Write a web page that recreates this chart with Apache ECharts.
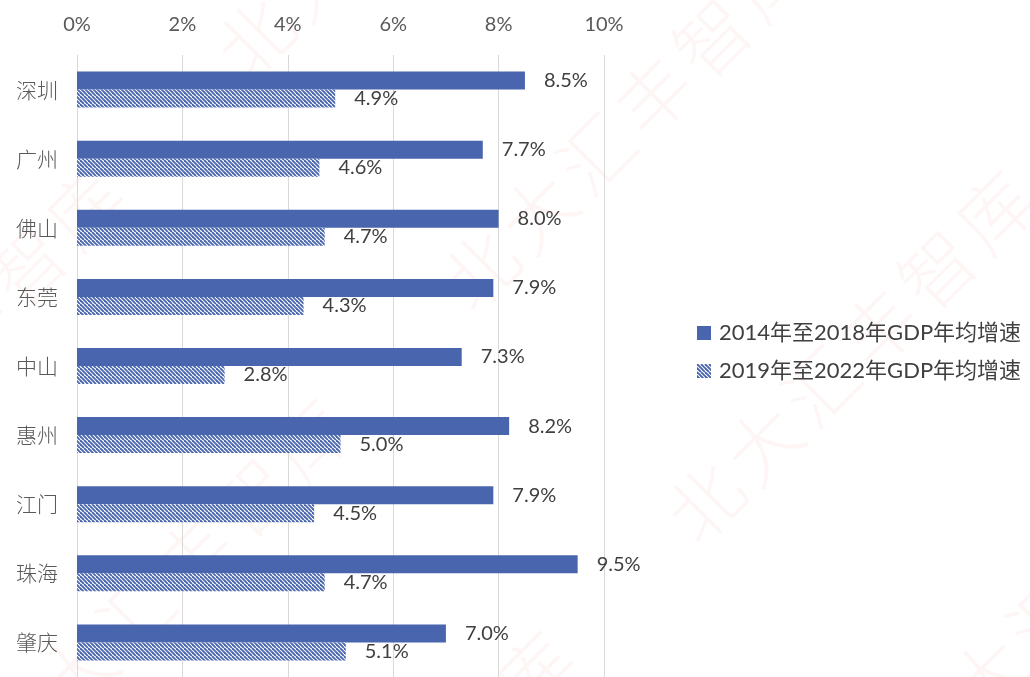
<!DOCTYPE html>
<html>
<head>
<meta charset="utf-8">
<script src="https://cdn.jsdelivr.net/npm/echarts@6/dist/echarts.min.js"></script>
<style>
  html, body { margin: 0; padding: 0; background: #fff; }
  #main { width: 1030px; height: 677px; }
</style>
</head>
<body>
<div id="main"></div>
<script>
// 城市与两段时期GDP年均增速(%)
var cities = ['深圳', '广州', '佛山', '东莞', '中山', '惠州', '江门', '珠海', '肇庆'];
var growth2014to2018 = [8.5, 7.7, 8.0, 7.9, 7.3, 8.2, 7.9, 9.5, 7.0];
var growth2019to2022 = [4.9, 4.6, 4.7, 4.3, 2.8, 5.0, 4.5, 4.7, 5.1];
var seriesNames = ['2014年至2018年GDP年均增速', '2019年至2022年GDP年均增速'];
var xTicks = [0, 2, 4, 6, 8, 10];

var blue = '#4865ad';
var numFont = "Lato, 'Noto Sans CJK SC', sans-serif";
var cjkFont = "'Noto Sans CJK SC', sans-serif";

// 斜线填充
function makeHatch() {
  var c = document.createElement('canvas');
  c.width = 8;
  c.height = 8;
  var ctx = c.getContext('2d');
  ctx.fillStyle = '#fff';
  ctx.fillRect(0, 0, 8, 8);
  ctx.strokeStyle = blue;
  ctx.lineWidth = 1.9;
  for (var k = -12; k <= 12; k += 4) {
    ctx.beginPath();
    ctx.moveTo(k, 0);
    ctx.lineTo(k + 8, 8);
    ctx.stroke();
  }
  return c;
}

// 水印
function makeWatermark() {
  var chars = '北大汇丰智库'.split('');
  var items = [];
  for (var k = -2; k <= 2; k++) {
    for (var m = -2; m <= 2; m++) {
      for (var i = 0; i < chars.length; i++) {
        var x = 480 + k * 225 + m * 460 + i * 58;
        var y = 270 + k * 232 - m * 460 - i * 58;
        if (x < -60 || x > 1090 || y < -60 || y > 740) continue;
        items.push({
          type: 'text',
          x: x,
          y: y,
          rotation: Math.PI / 4,
          z: 0,
          silent: true,
          style: {
            text: chars[i],
            font: '300 74px ' + cjkFont,
            fill: 'rgba(235,80,80,0.06)',
            align: 'center',
            verticalAlign: 'middle'
          }
        });
      }
    }
  }
  return items;
}

var chartDom = document.getElementById('main');
var myChart = echarts.init(chartDom);
var option;

var labelStyle = {
  show: true,
  position: 'right',
  distance: 19,
  fontFamily: numFont,
  fontSize: 20,
  color: '#404040',
  formatter: function (p) {
    return p.value.toFixed(1) + '%';
  }
};

option = {
  animation: false,
  backgroundColor: '#fff',
  graphic: makeWatermark(),
  legend: {
    orient: 'vertical',
    left: 692,
    top: 317,
    icon: 'rect',
    itemWidth: 14,
    itemHeight: 14,
    itemGap: 16,
    data: seriesNames,
    textStyle: {
      fontFamily: numFont,
      fontSize: 22,
      color: '#404040',
      padding: [0, 0, 0, 3]
    }
  },
  grid: {
    left: 77,
    top: 55,
    width: 527,
    height: 630,
    containLabel: false
  },
  xAxis: {
    type: 'value',
    position: 'top',
    min: xTicks[0],
    max: xTicks[xTicks.length - 1],
    interval: 2,
    axisLine: { show: false },
    axisTick: { show: false },
    splitLine: { lineStyle: { color: '#d9d9d9', width: 1 } },
    axisLabel: {
      formatter: '{value}%',
      margin: 20,
      fontFamily: numFont,
      fontSize: 20,
      color: '#595959'
    }
  },
  yAxis: {
    type: 'category',
    inverse: true,
    data: cities,
    axisLine: { show: true, lineStyle: { color: '#d9d9d9' } },
    axisTick: { show: false },
    axisLabel: {
      margin: 19,
      fontFamily: cjkFont,
      fontWeight: 300,
      fontSize: 21,
      color: '#595959'
    }
  },
  series: [
    {
      name: seriesNames[0],
      type: 'bar',
      data: growth2014to2018,
      barWidth: 18,
      barGap: '0%',
      itemStyle: { color: blue },
      label: labelStyle
    },
    {
      name: seriesNames[1],
      type: 'bar',
      data: growth2019to2022,
      barWidth: 18,
      barGap: '0%',
      itemStyle: { color: { image: makeHatch(), repeat: 'repeat' } },
      label: labelStyle
    }
  ]
};

option && myChart.setOption(option);
</script>
</body>
</html>
